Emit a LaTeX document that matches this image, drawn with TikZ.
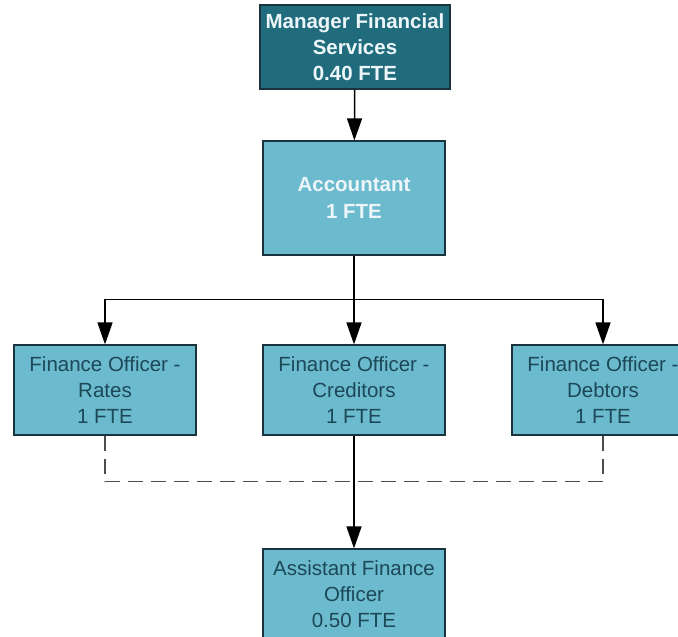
\documentclass[tikz,border=0pt]{standalone}
\usepackage{fontspec}
\setmainfont{Liberation Sans}
\usetikzlibrary{arrows.meta, positioning}
\definecolor{mgrfill}{RGB}{33,108,124}
\definecolor{rolefill}{RGB}{108,186,206}
\definecolor{boxline}{RGB}{26,52,62}
\definecolor{roletext}{RGB}{28,72,88}
\definecolor{lighttext}{RGB}{236,246,250}

\begin{document}
\begin{tikzpicture}[
  x=1pt, y=-1pt,
  mgr/.style={draw=boxline, line width=1.2pt, fill=mgrfill, text=lighttext,
              minimum width=190pt, minimum height=84pt, align=center,
              font=\fontsize{20.5}{26}\selectfont\bfseries},
  lead/.style={draw=boxline, line width=1.2pt, fill=rolefill, text=lighttext,
               minimum width=182pt, minimum height=114pt, align=center,
               font=\fontsize{20.5}{27}\selectfont\bfseries},
  role/.style={draw=boxline, line width=1.2pt, fill=rolefill, text=roletext,
               minimum width=182pt, minimum height=90pt, align=center,
               font=\fontsize{20.5}{26}\selectfont},
  arr/.style={-{Triangle[length=22pt, width=15pt]}, line width=1.5pt},
  peer/.style={dash pattern=on 15pt off 8pt, line width=1.6pt, black!70},
]
\useasboundingbox (0,0) rectangle (678,637);
\clip (0,0) rectangle (678,637);

%% ---- top: manager and accountant ----
\node[mgr]  (mgr)  at (355,47)  {Manager Financial\\Services\\0.40 FTE};
\node[lead] (acct) at (354,198) {Accountant\\1 FTE};

\draw[arr] (mgr) -- (acct);

%% ---- middle row: finance officers ----
\node[role] (rates) at (105,390) {Finance Officer -\\Rates\\1 FTE};
\node[role] (cred)  at (354,390) {Finance Officer -\\Creditors\\1 FTE};
\node[role] (debt)  at (603,390) {Finance Officer -\\Debtors\\1 FTE};

\draw[arr] (acct.south) -- (cred.north);
\draw[arr] (acct.south) -- ++(0,44) -| (rates.north);
\draw[arr] (acct.south) -- ++(0,44) -| (debt.north);

%% ---- bottom: assistant ----
\node[role] (asst) at (354,594) {Assistant Finance\\Officer\\0.50 FTE};

\draw[peer] (rates.south) -- ++(0,46) -| (debt.south);
\draw[arr] (cred.south) -- (asst.north);

\end{tikzpicture}
\end{document}
